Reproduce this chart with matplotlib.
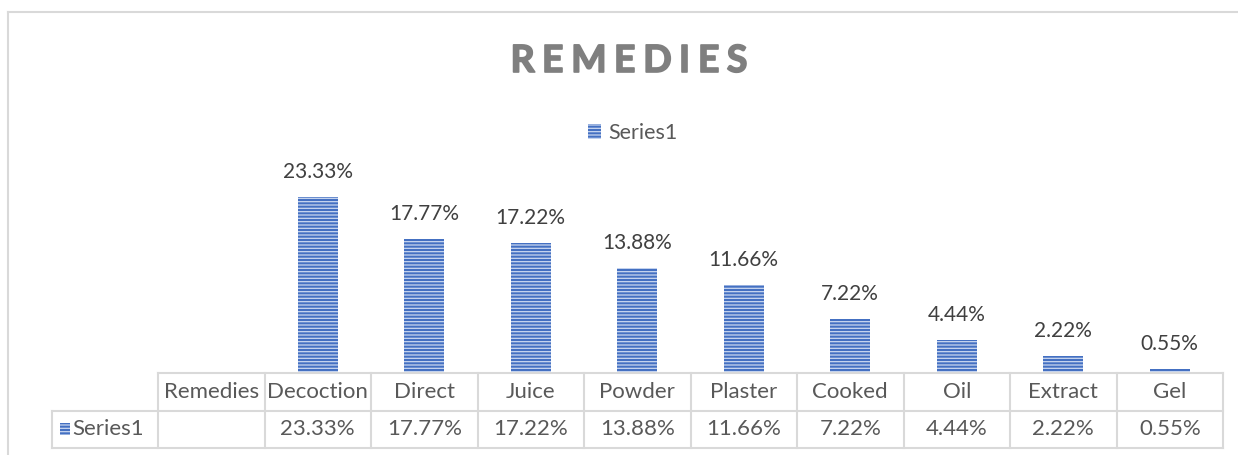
import matplotlib
matplotlib.use('Agg')
import matplotlib.pyplot as plt
import matplotlib.patheffects as pe
from matplotlib.lines import Line2D
from matplotlib.patches import Rectangle

# chart data
categories = ['Remedies', 'Decoction', 'Direct', 'Juice', 'Powder', 'Plaster',
              'Cooked', 'Oil', 'Extract', 'Gel']
values = [None, 23.33, 17.77, 17.22, 13.88, 11.66, 7.22, 4.44, 2.22, 0.55]
series_name = 'Series1'
title = 'REMEDIES'

plt.rcParams['font.family'] = ['Lato', 'DejaVu Sans']
plt.rcParams['hatch.linewidth'] = 0.9

W, H = 1238, 455
fig = plt.figure(figsize=(W / 100, H / 100), dpi=100)

bar_blue = '#4470c2'
stripe = '#c9d7f0'
txt = '#404040'
grid = '#d9d9d9'


def fx(px):
    return px / W


def fy(py):
    return (H - py) / H


# chart frame
fig.add_artist(Line2D([fx(8), fx(8)], [fy(12), 0], color=grid, lw=1.5))
fig.add_artist(Line2D([fx(8), 1], [fy(12), fy(12)], color=grid, lw=1.5))

# bar axes
left, right, base, top = 158, 1223, 373, 184.4
ax = fig.add_axes([fx(left), fy(base), fx(right - left), (base - top) / H])
x = list(range(len(categories)))
bx = [i for i, v in zip(x, values) if v is not None]
bv = [v for v in values if v is not None]
bars = ax.bar(bx, bv, width=0.375, color=bar_blue, edgecolor=stripe,
              linewidth=0, hatch='-----', label=series_name)
for xi, v in zip(bx, bv):
    ax.annotate(f'{v:.2f}%', (xi, v), xytext=(0, 19), textcoords='offset pixels',
                ha='center', va='baseline', fontsize=15, color=txt)
ax.set_xlim(-0.5, len(categories) - 0.5)
ax.set_ylim(0, 25)
ax.axis('off')

# legend
leg = fig.legend(handles=[bars], labels=[series_name], loc='center',
                 bbox_to_anchor=(fx(633), fy(133)), frameon=False, fontsize=15.5,
                 handlelength=0.6, handleheight=0.75, handletextpad=0.35,
                 labelcolor='#595959')

# data table
col_w = (right - left) / len(categories)
tax = fig.add_axes([fx(left - col_w), fy(448), fx(right - left + col_w), (448 - 373) / H])
tax.set_xlim(-1.5, len(categories) - 0.5)
tax.set_ylim(0, 2)
tax.axis('off')
lkw = dict(color=grid, lw=1.5, clip_on=False)
tax.plot([-0.5, len(categories) - 0.5], [2, 2], **lkw)
tax.plot([-1.5, len(categories) - 0.5], [1, 1], **lkw)
tax.plot([-1.5, len(categories) - 0.5], [0, 0], **lkw)
tax.plot([-1.5, -1.5], [0, 1], **lkw)
for i in range(len(categories) + 1):
    tax.plot([i - 0.5, i - 0.5], [0, 2], **lkw)
tfs = 16
for i, (c, v) in enumerate(zip(categories, values)):
    tax.text(i, 1.5, c, ha='center', va='center', fontsize=tfs, color='#595959')
    if v is not None:
        tax.text(i, 0.5, f'{v:.2f}%', ha='center', va='center', fontsize=tfs,
                 color='#595959')
tax.add_patch(Rectangle((-1.42, 0.34), 0.095, 0.32, facecolor=bar_blue,
                        edgecolor=stripe, linewidth=0, hatch='-----', clip_on=False))
tax.text(-1.305, 0.5, series_name, ha='left', va='center', fontsize=tfs, color='#595959')

# letter-spaced title
renderer = fig.canvas.get_renderer()
spacing = 7.5
letters = []
widths = []
for ch in title:
    t = fig.text(0, fy(61), ch, fontsize=27, fontweight='bold', color='#7f7f7f',
                 ha='left', va='center',
                 path_effects=[pe.withStroke(linewidth=1.2, foreground='#7f7f7f')])
    letters.append(t)
    widths.append(t.get_window_extent(renderer).width)
total = sum(widths) + spacing * (len(title) - 1)
xpos = 629 - total / 2
for t, w in zip(letters, widths):
    t.set_x(fx(xpos))
    xpos += w + spacing

fig.savefig('out.png', dpi=100)
